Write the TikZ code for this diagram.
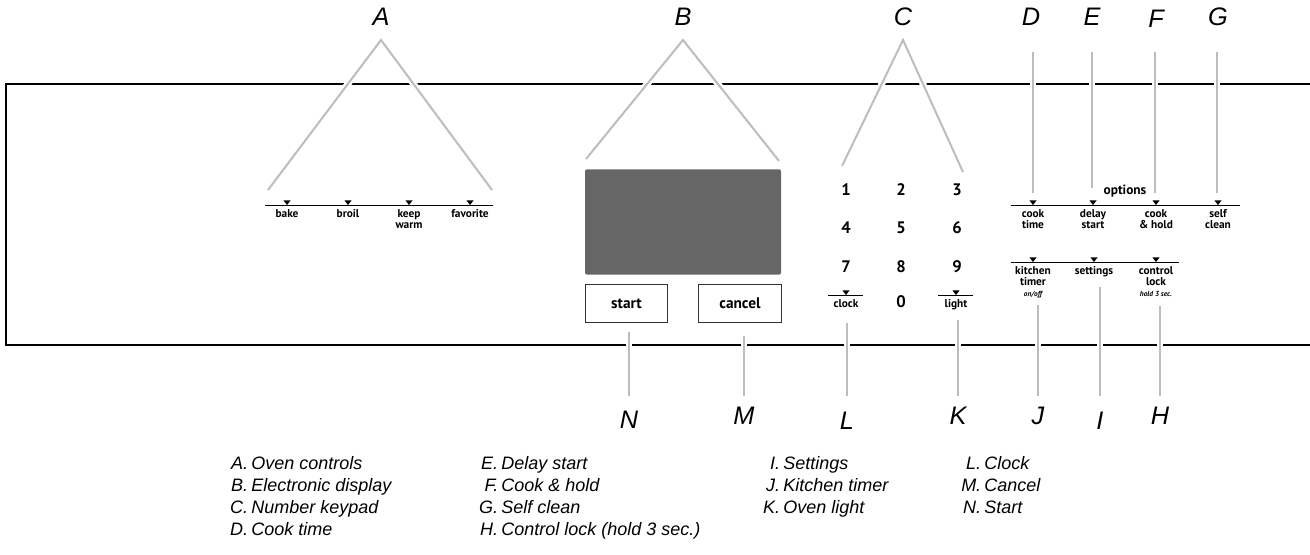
\documentclass[tikz,border=0pt]{standalone}
\usepackage{fontspec}
\setmainfont{Liberation Sans}
\newfontfamily\keyfont{PT Sans}
\usepackage{tikz}
\definecolor{leadgray}{HTML}{BDBDBD}
\definecolor{screengray}{HTML}{666666}

\begin{document}
\begin{tikzpicture}[x=0.75pt,y=-0.75pt]
%Declaration of styles
	\tikzstyle{frame} = [draw=black, line width=0.9pt] %style for the panel outline
	\tikzstyle{leader} = [draw=leadgray, line width=1.5pt, line join=miter, preaction={draw=white, line width=5pt}] %style for the callout lines
	\tikzstyle{callout} = [inner sep=0pt, font=\fontsize{19}{20}\selectfont\itshape]
	\tikzstyle{legend} = [inner sep=0pt, font=\fontsize{13.5}{15}\selectfont\itshape]
	\tikzstyle{keyrow} = [draw=black, line width=0.6pt]
	\tikzstyle{keylabel} = [anchor=north, inner sep=0pt, align=center, font=\keyfont\bfseries\fontsize{8.5}{8.3}\selectfont]
	\tikzstyle{digit} = [inner sep=0pt, font=\keyfont\bfseries\fontsize{12.5}{14}\selectfont]
	\tikzstyle{btn} = [rectangle, draw=black!80, line width=0.7pt, minimum width=62pt, minimum height=28pt, font=\keyfont\bfseries\fontsize{11.5}{12}\selectfont]
	\useasboundingbox (0,0) rectangle (1310,555);
%Panel outline
	\draw[frame] (1310,84) -- (6,84) -- (6,345) -- (1310,345);
%Callout letters and lines
	\node[callout] (lblA) at (381,17) {A};
	\node[callout] (lblB) at (683,17) {B};
	\node[callout] (lblC) at (903,17) {C};
	\node[callout] (lblD) at (1031,17) {D};
	\node[callout] (lblE) at (1092,17) {E};
	\node[callout] (lblF) at (1156,19) {F};
	\node[callout] (lblG) at (1218,17) {G};
	\coordinate (aTop) at (381,40); \coordinate (aL) at (268,190); \coordinate (aR) at (492,190);
	\coordinate (bTop) at (683,40); \coordinate (bL) at (586,159); \coordinate (bR) at (779,161);
	\coordinate (cTop) at (903,40); \coordinate (cL) at (842,166); \coordinate (cR) at (963,172);
	\draw[leader] (aL) -- (aTop) -- (aR);
	\draw[leader] (bL) -- (bTop) -- (bR);
	\draw[leader] (cL) -- (cTop) -- (cR);
	\foreach \l/\x/\yb in {D/1033/193, E/1092/188, F/1155/193, G/1217/193}{
		\coordinate (top\l) at (\x,52);
		\coordinate (end\l) at (\x,\yb);
		\draw[leader] (top\l) -- (end\l);
	}
	\foreach \l/\x/\ya/\yl in {N/629/332/420, M/744/336/416, L/847/323/421, K/958/320/416, J/1038/305/416, I/1100/287/421, H/1160/306/416}{
		\node[callout] (lbl\l) at (\x,\yl) {\l};
		\coordinate (beg\l) at (\x,\ya);
		\coordinate (end\l) at (\x,396);
		\draw[leader] (beg\l) -- (end\l);
	}
%Oven controls
	\draw[keyrow] (265,205) -- (493,205);
	\foreach \x/\txt in {287/bake, 348/broil, 409/{keep\\warm}, 470/favorite}{
		\fill (\x-3.5,200.5) -- (\x+3.5,200.5) -- (\x,205) -- cycle;
		\node[keylabel] (key\x) at (\x,209) {\txt};
	}
%Display and buttons
	\node[rectangle, fill=screengray, rounded corners=1.5pt, minimum width=147pt, minimum height=79pt] (display) at (683,222) {};
	\node[btn] (start) at (626.5,303.5) {start};
	\node[btn] (cancel) at (740,303.5) {cancel};
%Number keypad
	\foreach \n/\x/\y in {1/846/190, 2/901/190, 3/957/190, 4/846/228, 5/901/228, 6/957/228, 7/846/267, 8/901/267, 9/957/267, 0/901/302}{
		\node[digit] (num\n) at (\x,\y) {\n};
	}
	\draw[keyrow] (828,295) -- (863,295);
	\draw[keyrow] (938,295) -- (973,295);
	\foreach \x/\txt in {846/clock, 956/light}{
		\fill (\x-3.5,290.5) -- (\x+3.5,290.5) -- (\x,295) -- cycle;
		\node[keylabel] (key\txt) at (\x,299) {\txt};
	}
%Options
	\node[keylabel, font=\keyfont\bfseries\fontsize{10}{11}\selectfont, anchor=center] (options) at (1125,191) {options};
	\draw[keyrow] (1011,205) -- (1240,205);
	\foreach \x/\txt in {1033/{cook\\time}, 1093/{delay\\start}, 1156/{cook\\\& hold}, 1218/{self\\clean}}{
		\fill (\x-3.5,200.5) -- (\x+3.5,200.5) -- (\x,205) -- cycle;
		\node[keylabel] (opt\x) at (\x,209) {\txt};
	}
	\draw[keyrow] (1011,262) -- (1179,262);
	\foreach \x/\txt in {1033/{kitchen\\timer\\{\itshape\fontsize{5.5}{7}\selectfont on/off}}, 1094/settings, 1156/{control\\lock\\{\itshape\fontsize{5.5}{7}\selectfont hold 3 sec.}}}{
		\fill (\x-3.5,257.5) -- (\x+3.5,257.5) -- (\x,262) -- cycle;
		\node[keylabel] (opt\x) at (\x,266) {\txt};
	}
%Legend
	\foreach \l/\t/\x/\y in {A/Oven controls/251/469.5, B/Electronic display/251/491.5, C/Number keypad/251/513.5, D/Cook time/251/535.5,
		E/Delay start/501/469.5, F/Cook \& hold/501/491.5, G/Self clean/501/513.5, H/Control lock (hold 3 sec.)/501/535.5,
		I/Settings/783/469.5, J/Kitchen timer/783/491.5, K/Oven light/783/513.5,
		L/Clock/984/469.5, M/Cancel/984/491.5, N/Start/984/513.5}{
		\node[legend, anchor=base east] (leg\l) at (\x-2.5,\y) {\l.};
		\node[legend, anchor=base west] (legt\l) at (\x,\y) {\t};
	}
\end{tikzpicture}
\end{document}
